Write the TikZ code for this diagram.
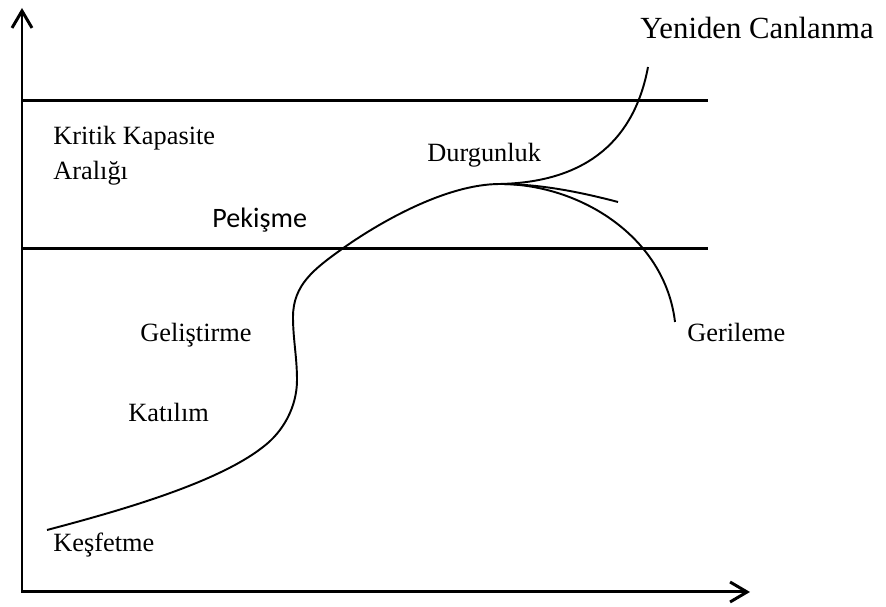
\documentclass[tikz,border=0pt]{standalone}
\usepackage{fontspec}
\setmainfont{Liberation Serif}
\newfontfamily\calibrifont{Carlito}
\usetikzlibrary{arrows.meta}

\tikzset{
  axisline/.style={line width=1.7pt, {Straight Barb[length=3.4mm,width=4mm]}-{Straight Barb[length=3.4mm,width=4mm]}},
  rangeline/.style={line width=1.7pt},
  cycleline/.style={line width=1.1pt},
  stagelabel/.style={anchor=base west, inner sep=0pt, font=\rmfamily\fontsize{15}{18}\selectfont}
}

\begin{document}
\begin{tikzpicture}[x=0.02cm, y=0.02cm]
  \useasboundingbox (0,0) rectangle (886,607);

  % Axes
  \coordinate (ytip) at (22,599);
  \coordinate (origin) at (22,15);
  \coordinate (xtip) at (750,15);
  \draw[axisline] (ytip) -- (origin) -- (xtip);

  % Critical capacity range
  \coordinate (upperleft) at (22,506);
  \coordinate (upperright) at (708,506);
  \coordinate (lowerleft) at (22,358);
  \coordinate (lowerright) at (708,358);
  \draw[rangeline] (upperleft) -- (upperright);
  \draw[rangeline] (lowerleft) -- (lowerright);

  % Life cycle curve up to the peak
  \coordinate (start) at (47,77);
  \coordinate (peak) at (500,423);
  \draw[cycleline] (start) .. controls (115,95) and (216,123) .. (263,160)
    .. controls (283,175) and (297,200) .. (297,227)
    .. controls (297,250) and (293,268) .. (293,290)
    .. controls (293,322) and (314,338) .. (342,358)
    .. controls (377,383) and (445,423) .. (peak);

  % Three branches after the peak
  \coordinate (revival) at (648,540);
  \coordinate (stable) at (618,405);
  \coordinate (decline) at (675,285);
  \draw[cycleline] (peak) .. controls (590,425) and (635,470) .. (revival);
  \draw[cycleline] (peak) .. controls (540,423) and (580,415) .. (stable);
  \draw[cycleline] (peak) .. controls (580,423) and (665,370) .. (decline);

  % Stage labels
  \node[stagelabel] (kritik) at (53,462) {Kritik Kapasite};
  \node[stagelabel] (aralik) at (53,427) {Aralığı};
  \node[stagelabel] (durgunluk) at (427,445) {Durgunluk};
  \node[stagelabel, font=\calibrifont\fontsize{16}{19}\selectfont] (pekisme) at (212,379) {Pekişme};
  \node[stagelabel] (gelistirme) at (140,265) {Geliştirme};
  \node[stagelabel] (katilim) at (128,185) {Katılım};
  \node[stagelabel] (kesfetme) at (53,55) {Keşfetme};
  \node[stagelabel] (gerileme) at (687,265) {Gerileme};
  \node[stagelabel, font=\rmfamily\fontsize{17.5}{21}\selectfont] (yeniden) at (640,568) {Yeniden Canlanma};
\end{tikzpicture}
\end{document}
